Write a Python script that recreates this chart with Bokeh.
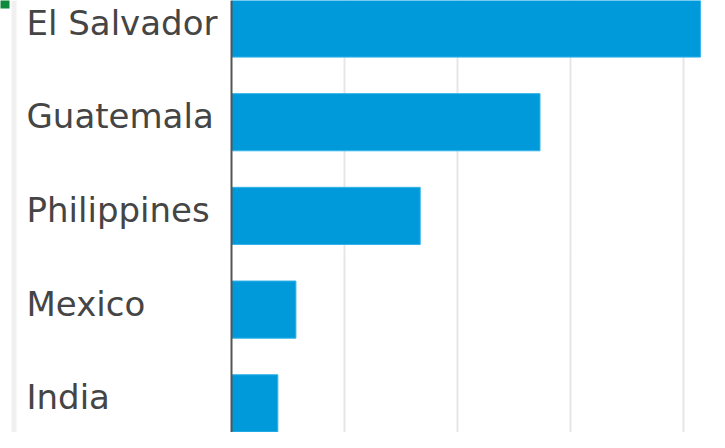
from bokeh.plotting import figure
from bokeh.models import ColumnDataSource, Range1d, Span, BoxAnnotation, FixedTicker
from bokeh.core.properties import value
from bokeh.embed import file_html
from bokeh.resources import INLINE

countries = ["El Salvador", "Guatemala", "Philippines", "Mexico", "India"]
values = [41.5, 27.3, 16.7, 5.7, 4.1]
grid_ticks = [10, 20, 30, 40]

ypos = list(range(len(countries)))
src = ColumnDataSource(dict(country=countries, val=values, y=ypos))

W, H = 709, 432
px_per_unit = 11.3
x0_px = 231
y_top = -0.299
y_bot = y_top + H / 93.7
p = figure(width=W, height=H, output_backend="svg", toolbar_location=None,
           x_range=Range1d(-x0_px / px_per_unit, (W - x0_px) / px_per_unit),
           y_range=Range1d(start=y_bot, end=y_top),
           min_border=0, min_border_left=0, min_border_right=0,
           min_border_top=0, min_border_bottom=0)
p.axis.visible = False
p.outline_line_color = None
p.background_fill_color = "white"
p.border_fill_color = "white"
p.ygrid.visible = False
p.xgrid.ticker = FixedTicker(ticks=grid_ticks)
p.xgrid.grid_line_color = "#e6e6e6"
p.xgrid.grid_line_width = 2

# left light strip and corner marker
p.add_layout(BoxAnnotation(left=(11 - x0_px) / px_per_unit, right=(16 - x0_px) / px_per_unit,
                           fill_color="#f0f0f0", fill_alpha=1, line_color=None, level="underlay"))
p.add_layout(BoxAnnotation(left=-x0_px / px_per_unit - 1, right=(9 - x0_px) / px_per_unit,
                           top=y_top - 1, bottom=y_top + 8 / 93.7,
                           fill_color="#0e8a3c", fill_alpha=1, line_color=None))

p.hbar(y="y", right="val", left=0, height=0.61, source=src,
       fill_color="#0099d9", line_color="#33b3ea", line_width=1)

p.add_layout(Span(location=0, dimension="height", line_color="#555555", line_width=2))

p.text(x=(26 - x0_px) / px_per_unit, y="y", text="country", source=src,
       text_font=value("DejaVu Sans"), text_font_size="34px", text_color="#454545",
       text_align="left", text_baseline="alphabetic", y_offset=-6)

open("out.html", "w").write(file_html(p, INLINE))
